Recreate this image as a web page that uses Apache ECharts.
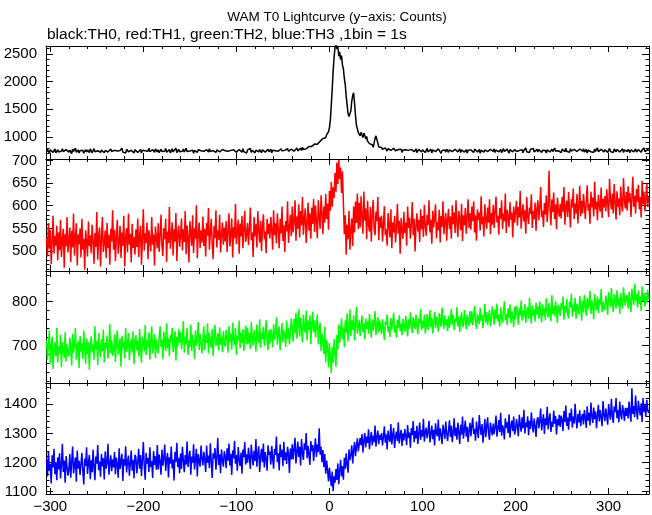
<!DOCTYPE html>
<html><head><meta charset="utf-8">
<script src="https://cdn.jsdelivr.net/npm/echarts@6/dist/echarts.min.js"></script>
<style>html,body{margin:0;padding:0;background:#fff}#c{width:652px;height:515px}</style>
</head><body><div id="c"></div>
<script>
// 1 bin = 1 s, first bin at t = -304 s
const tStart = -304;

// TH0 (black)
const th0 = [
731,776,752,708,769,741,795,722,758,784,713,747,770,729,761,702,748,787,735,759,718,772,744,790,
726,763,749,701,781,738,756,797,721,745,768,712,753,779,734,760,707,743,771,728,765,750,719,784,
757,714,746,789,733,768,705,751,776,739,722,764,748,793,716,757,740,774,729,711,762,781,737,750,
703,759,782,730,747,771,715,754,738,799,726,761,744,708,777,752,733,766,720,757,789,741,712,768,
745,788,721,756,734,773,709,762,781,727,750,766,718,743,795,736,759,711,770,748,725,783,754,731,
769,717,751,778,739,706,763,748,791,724,756,735,772,713,747,786,730,761,742,799,719,754,777,735,
712,766,743,781,728,754,796,737,769,716,748,775,731,762,704,757,783,745,720,768,738,792,751,726,
783,741,758,715,772,749,727,790,736,763,709,755,779,744,721,766,752,797,731,748,713,774,760,739,
751,724,786,743,765,710,758,779,733,768,742,801,727,756,718,773,746,762,725,789,737,753,770,708,
767,733,750,792,721,759,776,740,713,764,745,785,729,771,752,716,768,739,794,726,757,742,778,734,
745,779,716,761,738,797,753,728,774,742,765,711,787,749,732,776,758,722,769,791,740,763,735,782,
756,790,742,775,761,803,749,782,768,796,757,813,774,791,802,785,818,797,826,809,843,829,858,846,
871,853,889,868,902,884,925,948,931,972,958,1003,987,1041,1012,1095,1170,1310,1590,1870,2200,2440,2620,2700,
2590,2650,2460,2540,2400,2470,2300,2230,2060,1940,1740,1580,1420,1370,1400,1470,1650,1750,1800,1610,1390,1210,1150,1080,
1060,1020,1085,1040,990,1070,1025,965,1010,925,955,880,905,845,860,815,890,975,1020,950,895,820,840,790,
812,775,798,761,803,780,745,792,770,816,756,784,739,797,768,752,788,731,774,806,749,777,722,765,
783,741,769,804,737,758,790,725,776,748,795,732,763,787,719,754,778,742,801,729,767,745,784,718,
757,794,730,762,745,781,712,769,753,798,736,760,723,785,749,771,704,756,789,738,764,727,780,751,
722,768,749,790,735,756,713,777,748,799,731,759,784,720,766,741,795,728,755,770,711,762,743,786,
767,734,759,718,781,746,792,729,754,773,707,761,742,788,725,769,751,796,736,758,721,777,745,763,
740,785,719,764,752,797,733,757,776,715,748,789,738,763,726,781,749,708,770,744,793,731,758,775,
793,738,766,724,755,787,742,771,716,760,749,803,733,768,752,719,780,745,764,791,729,757,740,776,
731,772,749,795,720,761,738,784,756,709,767,743,790,728,753,778,736,762,801,744,721,769,752,787,
759,717,781,748,766,732,799,741,754,773,722,788,746,760,713,775,751,792,737,764,726,783,749,770,
742,786,729,757,774,711,762,748,796,733,769,752,721,784,740,765,803,736,758,715,777,747,789,730,
768,743,781,722,757,794,738,770,749,717,782,756,733,775,747,799,728,763,740,786,719,766,754,792,
735,778,752,719,769,745,797,731,760,784,726,755,771,742,789,724,763,748,801,737,758,716,773,751
];

// TH1 (red)
const th1 = [
530,488,562,505,547,471,520,578,494,533,512,556,480,541,502,569,487,526,549,463,538,510,575,497,
521,552,476,544,508,583,490,529,561,468,537,515,550,486,571,503,527,459,546,520,488,565,511,534,
495,558,523,472,540,509,586,481,533,552,466,528,575,498,517,545,484,562,507,536,470,549,521,590,
503,547,478,532,569,494,520,556,485,541,512,578,466,529,550,497,583,514,538,475,560,507,531,492,
548,509,572,487,535,556,470,527,592,501,539,518,563,482,546,525,499,575,514,537,468,554,529,506,
561,498,534,580,512,489,550,526,571,476,543,518,597,505,532,563,490,548,521,584,478,539,556,509,
535,572,501,548,520,588,493,557,530,475,566,541,512,579,496,550,527,601,484,538,563,507,545,519,
576,511,549,488,562,534,595,503,540,571,517,482,555,529,590,508,546,525,580,497,536,563,514,552,
521,566,498,544,583,510,537,572,486,553,528,604,515,541,569,494,560,532,578,506,547,589,520,538,
562,513,550,596,524,541,487,575,533,559,508,588,545,519,567,500,552,581,526,543,495,571,537,560,
528,575,546,503,590,535,561,517,583,548,506,571,539,598,522,557,498,566,543,610,518,552,580,533,
598,541,567,612,523,576,549,603,530,588,557,619,536,571,594,518,562,607,545,583,527,596,560,615,
542,601,566,528,612,575,549,623,584,537,598,563,626,571,604,547,633,589,652,598,641,617,672,631,
695,648,701,659,684,628,676,604,537,579,492,558,526,589,503,547,572,511,598,541,609,562,627,548,
606,552,621,573,538,631,567,594,526,611,558,543,597,521,580,613,549,535,587,566,619,524,575,551,
578,521,560,599,535,548,512,584,557,530,592,506,563,541,577,519,551,604,538,566,494,573,549,527,
586,540,563,512,598,551,574,527,560,608,535,571,499,556,583,543,569,520,592,548,577,531,602,555,
534,580,557,612,541,569,516,589,552,575,603,528,564,546,591,519,577,553,610,537,566,584,523,570,
593,548,576,527,601,559,585,540,612,563,531,588,570,546,604,522,579,557,595,538,574,614,551,583,
547,598,566,610,541,579,523,592,568,585,545,621,559,576,532,603,571,549,596,563,614,537,584,558,
602,551,587,620,563,578,536,595,571,612,548,583,566,627,540,591,575,553,608,569,585,530,598,562,
588,611,556,597,574,633,549,584,603,565,590,538,619,577,560,596,582,625,551,588,571,607,545,594,
612,568,597,641,575,589,553,606,580,623,564,598,677,592,557,614,586,629,571,603,548,618,590,576,
604,572,619,587,641,558,598,611,575,630,589,552,615,596,638,570,605,583,626,561,599,644,577,610,
583,626,598,571,612,645,589,604,560,631,597,618,576,653,592,609,568,624,601,587,640,573,615,596,
621,588,636,604,575,659,611,592,627,583,648,607,569,632,598,616,579,642,603,587,661,612,594,630,
589,643,607,628,575,616,664,598,622,583,637,609,646,592,619,574,655,603,631,588,612,649,597,620
];

// TH2 (green)
const th2 = [
712,668,701,735,659,694,720,647,688,707,676,741,662,699,683,725,651,709,690,672,731,664,703,685,
676,718,693,655,727,684,701,740,668,696,711,649,722,687,705,670,734,692,659,716,681,708,645,698,
721,685,702,668,744,691,710,656,729,697,674,715,688,737,662,706,694,723,671,700,749,683,713,677,
689,726,663,708,735,680,699,717,652,723,694,710,671,741,686,704,729,667,698,715,684,733,658,712,
724,690,711,675,738,698,661,720,705,687,747,679,713,696,730,668,709,744,683,701,726,672,715,693,
682,719,744,697,713,670,732,706,688,751,694,717,676,725,710,741,685,703,733,666,720,698,738,707,
731,692,714,756,684,720,703,740,679,712,697,748,688,725,709,669,735,701,718,754,690,727,705,683,
715,744,690,723,706,751,682,730,712,695,738,676,721,747,699,713,728,689,742,703,719,685,733,710,
697,736,718,684,745,709,727,691,752,715,702,740,680,723,711,757,694,729,706,738,688,720,746,703,
741,705,729,692,754,718,700,736,713,687,748,722,706,760,695,730,714,743,699,727,758,709,690,735,
705,738,721,696,749,713,731,764,702,726,744,689,717,752,708,735,722,697,757,716,740,703,729,762,
742,709,761,728,775,716,750,783,721,764,738,707,771,745,729,780,712,757,736,769,704,748,777,731,
758,719,744,771,703,736,752,688,727,709,681,743,662,714,695,651,706,672,638,697,661,715,683,652,
724,691,748,706,733,762,715,741,697,758,729,774,710,746,783,722,757,736,769,711,752,789,727,744,
758,722,745,769,731,750,714,762,738,755,727,772,743,718,760,735,752,779,724,746,765,730,757,741,
726,760,739,713,755,748,771,731,744,720,763,737,752,775,729,746,718,758,741,769,733,750,724,761,
757,732,768,744,721,760,739,776,748,729,765,752,738,771,743,726,762,750,784,735,757,741,770,728,
745,772,736,759,781,742,763,728,754,777,740,766,749,732,775,758,743,787,752,738,769,746,760,733,
768,741,757,784,748,770,735,762,753,788,744,767,731,759,776,750,742,781,764,737,771,756,745,779,
752,778,746,769,791,755,738,773,762,749,786,757,771,740,766,795,753,776,747,768,781,744,760,789,
774,748,783,761,796,755,770,743,788,765,752,779,801,758,772,747,785,763,794,751,778,766,742,789,
760,791,775,748,786,769,803,757,780,766,795,752,777,788,761,809,774,750,792,768,783,755,798,771,
789,762,801,775,753,794,770,785,758,808,779,764,797,781,756,815,772,790,767,802,779,752,793,784,
768,797,783,812,759,790,775,806,771,762,800,787,818,766,793,778,809,761,795,784,771,813,789,757,
802,776,815,791,768,809,784,797,825,772,803,790,760,818,795,781,812,774,806,793,829,777,800,786,
781,814,797,770,822,803,788,831,795,776,817,801,784,826,792,809,773,820,798,785,833,806,791,815,
810,785,823,799,776,830,807,792,841,803,818,787,826,795,812,779,835,802,820,789,814,797,828,805
];

// TH3 (blue)
const th3 = [
1210,1152,1238,1171,1196,1128,1225,1183,1247,1160,1201,1139,1218,1176,1232,1145,1193,1264,1168,1207,1131,1222,1187,1155,
1175,1229,1148,1202,1255,1163,1190,1218,1134,1241,1179,1206,1157,1196,1233,1170,1125,1214,1188,1252,1161,1199,1226,1143,
1208,1167,1244,1185,1139,1221,1196,1260,1174,1203,1151,1229,1187,1215,1142,1238,1179,1200,1264,1158,1193,1225,1170,1211,
1183,1236,1160,1217,1194,1148,1249,1178,1205,1230,1137,1212,1189,1256,1166,1203,1224,1155,1197,1241,1172,1209,1146,1227,
1218,1163,1201,1247,1179,1226,1154,1210,1270,1188,1141,1233,1196,1215,1168,1252,1184,1205,1147,1239,1192,1221,1175,1260,
1176,1227,1203,1158,1245,1189,1214,1262,1171,1207,1233,1149,1219,1196,1255,1180,1210,1138,1236,1202,1268,1185,1216,1163,
1231,1179,1254,1208,1167,1226,1193,1272,1185,1215,1240,1158,1221,1199,1263,1176,1210,1247,1152,1229,1203,1186,1258,1214,
1190,1237,1211,1168,1258,1199,1224,1181,1266,1205,1147,1232,1213,1250,1175,1219,1284,1192,1228,1163,1245,1207,1186,1239,
1222,1181,1249,1206,1265,1190,1230,1157,1241,1214,1275,1196,1226,1172,1253,1209,1188,1234,1162,1245,1218,1270,1193,1228,
1199,1251,1215,1178,1262,1223,1190,1240,1205,1281,1186,1230,1256,1168,1220,1247,1201,1265,1183,1236,1212,1172,1259,1227,
1238,1193,1257,1214,1179,1246,1226,1289,1201,1232,1173,1263,1219,1244,1187,1271,1208,1235,1195,1254,1230,1164,1248,1211,
1263,1211,1248,1285,1197,1236,1272,1219,1254,1190,1281,1233,1209,1266,1243,1301,1215,1257,1228,1192,1274,1239,1260,1205,
1248,1283,1219,1262,1236,1318,1227,1254,1201,1243,1185,1229,1162,1207,1174,1135,1182,1148,1119,1169,1102,1153,1131,1178,
1140,1197,1126,1171,1209,1152,1188,1141,1216,1179,1232,1193,1165,1245,1208,1226,1259,1197,1241,1270,1222,1255,1283,1238,
1243,1285,1260,1298,1235,1276,1301,1252,1289,1267,1314,1246,1281,1305,1259,1292,1270,1327,1254,1288,1310,1263,1295,1278,
1301,1259,1290,1324,1268,1297,1245,1310,1283,1271,1332,1262,1295,1318,1250,1289,1306,1274,1338,1266,1293,1312,1257,1300,
1276,1315,1292,1260,1329,1285,1303,1251,1318,1294,1342,1270,1308,1283,1326,1264,1299,1337,1278,1311,1289,1350,1272,1305,
1320,1284,1306,1343,1269,1298,1327,1280,1312,1259,1335,1301,1290,1348,1275,1317,1296,1263,1330,1308,1281,1341,1299,1274,
1312,1345,1288,1326,1270,1303,1352,1291,1319,1278,1337,1305,1264,1330,1296,1358,1282,1315,1344,1289,1323,1271,1309,1336,
1290,1327,1354,1298,1316,1275,1341,1309,1284,1363,1321,1295,1332,1268,1306,1349,1287,1324,1355,1300,1278,1337,1313,1293,
1334,1297,1322,1361,1289,1316,1346,1305,1371,1292,1328,1313,1279,1352,1319,1338,1301,1366,1285,1327,1344,1308,1358,1296,
1312,1349,1325,1290,1364,1331,1306,1355,1318,1381,1300,1337,1322,1359,1294,1343,1315,1372,1329,1303,1351,1326,1288,1345,
1356,1318,1343,1385,1310,1337,1366,1298,1352,1328,1391,1314,1347,1369,1305,1340,1322,1378,1333,1360,1296,1349,1327,1364,
1322,1361,1345,1308,1377,1339,1396,1326,1354,1313,1370,1342,1385,1320,1358,1334,1402,1349,1317,1366,1338,1379,1325,1355,
1367,1331,1380,1352,1319,1393,1344,1371,1327,1406,1358,1336,1389,1349,1375,1318,1362,1398,1341,1380,1355,1325,1411,1364,
1342,1385,1359,1330,1401,1368,1347,1419,1361,1336,1392,1373,1421,1352,1380,1338,1409,1366,1348,1397,1375,1343,1388,1360,
1388,1351,1409,1372,1340,1455,1367,1394,1356,1430,1379,1348,1412,1385,1362,1403,1339,1421,1374,1396,1358,1415,1381,1370
];

// Tick labels
const xTickLabels = [-300, -200, -100, 0, 100, 200, 300];
const yLabels0 = [1000, 1500, 2000, 2500];
const yLabels1 = [500, 550, 600, 650, 700];
const yLabels2 = [700, 800];
const yLabels3 = [1100, 1200, 1300, 1400];

const titleText = 'WAM T0 Lightcurve (y\u2212axis: Counts)';
const subtitleText = 'black:TH0, red:TH1, green:TH2, blue:TH3 ,1bin = 1s';

const FONT = '"Liberation Sans", Arial, Helvetica, sans-serif';
const xMin = -304.6, xMax = 343.4;
function steps(a, b, s) { const r = []; for (let v = a; v <= b + 1e-9; v += s) r.push(v); return r; }
const xMinor = steps(-300, 340, 20);

const panels = [
  { data: th0, color: '#000000', ymin: 602, ymax: 2645, labels: yLabels0, major: yLabels0, minor: steps(700, 2600, 100), top: 46, h: 113 },
  { data: th1, color: '#ff0000', ymin: 456, ymax: 703, labels: yLabels1, major: yLabels1, minor: steps(460, 700, 10), top: 159, h: 112 },
  { data: th2, color: '#00ff00', ymin: 615, ymax: 870, labels: yLabels2, major: yLabels2, minor: steps(620, 860, 20), top: 271, h: 112 },
  { data: th3, color: '#0000ff', ymin: 1092, ymax: 1473, labels: yLabels3, major: yLabels3, minor: steps(1100, 1460, 20), top: 383, h: 111 }
];

const grids = [], xAxes = [], yAxes = [], series = [];
const fmtX = v => (v < 0 ? '\u2212' + Math.abs(v) : String(v));
const fmtY = v => String(v);

panels.forEach((p, i) => {
  grids.push({ left: 46, right: 3, top: p.top, height: p.h, containLabel: false });
  const xa = (pos, vals, len, lab, line) => ({
    gridIndex: i, type: 'value', position: pos, min: xMin, max: xMax,
    axisLine: { show: line, onZero: false, lineStyle: { color: '#000', width: 1 } },
    splitLine: { show: false },
    axisTick: { show: true, inside: true, length: len, customValues: vals, lineStyle: { color: '#000', width: 1 } },
    axisLabel: { show: lab, customValues: xTickLabels, margin: 5, color: '#000', fontSize: 15, fontFamily: FONT, formatter: fmtX }
  });
  xAxes.push(xa('bottom', xTickLabels, 6, i === 3, true), xa('bottom', xMinor, 3, false, false),
             xa('top', xTickLabels, 6, false, true), xa('top', xMinor, 3, false, false));
  const ya = (pos, vals, len, lab, line) => ({
    gridIndex: i, type: 'value', position: pos, min: p.ymin, max: p.ymax,
    axisLine: { show: line, onZero: false, lineStyle: { color: '#000', width: 1 } },
    splitLine: { show: false },
    axisTick: { show: true, inside: true, length: len, customValues: vals, lineStyle: { color: '#000', width: 1 } },
    axisLabel: { show: lab, customValues: p.labels, margin: 9, color: '#000', fontSize: 15, fontFamily: FONT, formatter: fmtY }
  });
  yAxes.push(ya('left', p.major, 7, true, true), ya('left', p.minor, 3.5, false, false),
             ya('right', p.major, 7, false, true), ya('right', p.minor, 3.5, false, false));
  series.push({
    type: 'line', xAxisIndex: 4 * i, yAxisIndex: 4 * i,
    data: p.data.map((v, k) => [tStart + k, v]),
    showSymbol: false, symbol: 'none', clip: true, silent: true, animation: false,
    lineStyle: { color: p.color, width: 1.5 }, itemStyle: { color: p.color }
  });
});

const chart = echarts.init(document.getElementById('c'), null, { renderer: 'canvas' });
chart.setOption({
  backgroundColor: '#ffffff',
  animation: false,
  grid: grids, xAxis: xAxes, yAxis: yAxes, series: series,
  graphic: [
    { type: 'text', x: 337, y: 17, style: { text: titleText, fill: '#000', font: '13.5px ' + FONT, textAlign: 'center', textVerticalAlign: 'middle' } },
    { type: 'text', x: 47, y: 35, style: { text: subtitleText, fill: '#000', font: '15.5px ' + FONT, textAlign: 'left', textVerticalAlign: 'middle' } }
  ]
});
</script>
</body></html>
